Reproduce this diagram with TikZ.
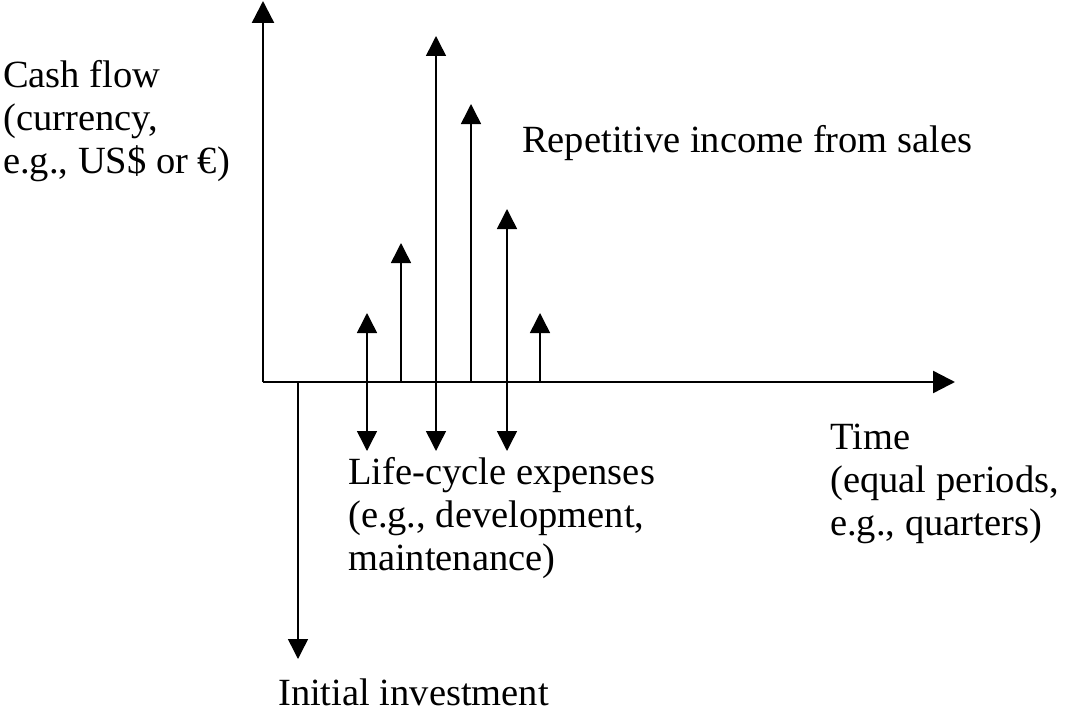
\documentclass[tikz,border=0pt]{standalone}
\usepackage{fontspec}
\setmainfont{Liberation Serif}
\usetikzlibrary{arrows.meta}
\begin{document}
\begin{tikzpicture}[x=1pt,y=-1pt,
  axis/.style={line width=2.4pt,-{Triangle[width=22pt,length=22pt]}},
  flow/.style={line width=1.5pt,-{Triangle[width=20pt,length=20pt]}},
  lbl/.style={inner sep=0pt,anchor=base west,align=left,font=\fontsize{38.5}{43}\selectfont}]
\useasboundingbox (0,0) rectangle (1072,717);
% axes
\coordinate (O) at (263,382);
\coordinate (ytip) at (263,1);
\coordinate (xtip) at (955,382);
\draw[axis] (O) -- (ytip);
\draw[axis] (O) -- (xtip);
% base points on the time axis
\coordinate (b0) at (298,382);
\coordinate (b1) at (367,382);
\coordinate (b2) at (401,382);
\coordinate (b3) at (436,382);
\coordinate (b4) at (471,382);
\coordinate (b5) at (507,382);
\coordinate (b6) at (540,382);
% income tips
\coordinate (u1) at (367,313);
\coordinate (u2) at (401,243);
\coordinate (u3) at (436,36);
\coordinate (u4) at (471,104);
\coordinate (u5) at (507,209);
\coordinate (u6) at (540,313);
% expense tips
\coordinate (d0) at (298,659);
\coordinate (d1) at (367,451);
\coordinate (d3) at (436,451);
\coordinate (d5) at (507,451);
% income arrows
\foreach \i in {1,...,6} \draw[flow] (b\i) -- (u\i);
% expense arrows
\draw[flow] (b0) -- (d0);
\foreach \i in {1,3,5} \draw[flow] (b\i) -- (d\i);
% labels (base anchor = baseline of last line)
\node[lbl] (cash) at (3,173) {Cash flow\\(currency,\\e.g., US\$ or €)};
\node[lbl] (rep) at (522,152) {Repetitive income from sales};
\node[lbl] (time) at (830,535) {Time\\(equal periods,\\e.g., quarters)};
\node[lbl] (life) at (348,570) {Life-cycle expenses\\(e.g., development,\\maintenance)};
\node[lbl] (init) at (278,705) {Initial investment};
\end{tikzpicture}
\end{document}
